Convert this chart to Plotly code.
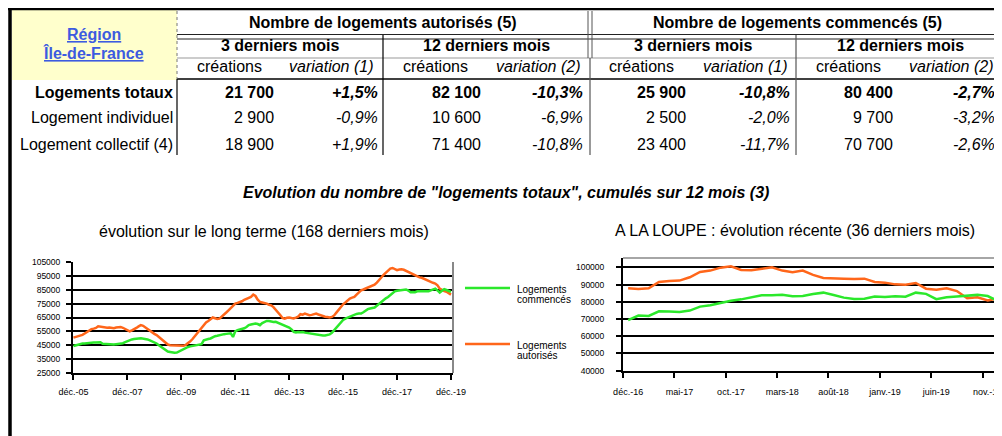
import plotly.graph_objects as go

# The page body adds an 8px margin: the figure is sized and positioned so that
# its content lands on the 1002x436 window coordinates used below.
PAGE_MARGIN = 8
W, H = 1002 - PAGE_MARGIN, 436 - PAGE_MARGIN


def X(px):
    return (px - PAGE_MARGIN) / W


def Y(py):
    return 1 - (py - PAGE_MARGIN) / H


FONT = "Liberation Sans, Arial, sans-serif"
GREEN = "#2BE82B"
ORANGE = "#FF661A"
BLUE = "#3D5BE0"

# ---------------- table data ----------------
row_labels = ["Logements totaux", "Logement individuel", "Logement collectif (4)"]
aut_3m_creations = ["21 700", "2 900", "18 900"]
aut_3m_variation = ["+1,5%", "-0,9%", "+1,9%"]
aut_12m_creations = ["82 100", "10 600", "71 400"]
aut_12m_variation = ["-10,3%", "-6,9%", "-10,8%"]
com_3m_creations = ["25 900", "2 500", "23 400"]
com_3m_variation = ["-10,8%", "-2,0%", "-11,7%"]
com_12m_creations = ["80 400", "9 700", "70 700"]
com_12m_variation = ["-2,7%", "-3,2%", "-2,6%"]

# ---------------- long-term chart data (déc.-05 .. déc.-19, monthly) ----------------
autorises_long = [
    50500, 51000, 51500, 51800, 52500, 53500, 54500, 55800, 56600, 57000, 57500,
    58700, 58400, 58000, 57800, 57600, 57800, 57500, 57300, 57800, 58000,
    58200, 57600, 56800, 55400, 55000, 55800, 56500, 57500, 58600, 59500,
    59000, 57800, 56600, 55000, 54200, 53200, 52300, 51000, 49500, 48000,
    46800, 45500, 45000, 44900, 44800, 44600, 44300, 44600, 44600, 45300,
    46300, 47800, 49500, 51500, 53500, 55500, 57800, 60000, 61500, 62500,
    64000, 65000, 64500, 64000, 64200, 65500, 67000, 68600, 70200, 71800,
    73500, 75000, 75500, 76000, 76700, 77800, 78400, 79400, 79800, 81500,
    80500, 77800, 76200, 75800, 75500, 75000, 74200, 73800, 72500, 70800,
    69000, 66800, 64700, 64200, 64800, 65000, 64600, 64300, 64900, 65600,
    67400, 67000, 67800, 67200, 66600, 66900, 67400, 67800, 67200, 66600,
    65900, 65600, 65300, 65000, 65400, 66500, 68500, 70600, 72600, 74500,
    75800, 77400, 78600, 79300, 79800, 81500, 83200, 84600, 85200, 85800,
    86600, 87100, 87700, 88600, 90200, 91800, 93800, 95800, 97400, 98900,
    100200, 100700, 99800, 99100, 99600, 99800, 99400, 98600, 98000, 97200,
    96000, 95000, 94200, 93900, 93600, 92800, 91900, 91100, 90600, 90000,
    89500, 88200, 85800, 84800, 84000, 83600, 82500, 81500,
]
commences_long = [
    44500, 45000, 45500, 46300, 46300, 46200, 46500, 46800, 46700, 46900, 47000,
    47000, 47100, 46000, 45800, 45600, 45500, 45400, 45500, 45800, 46000,
    46000, 46500, 47200, 48000, 48700, 49200, 49500, 49900, 49900, 50000,
    49900, 49600, 49200, 48500, 47800, 47000, 46300, 45000, 43800, 42700,
    41500, 40500, 40200, 39800, 39600, 39700, 40500, 41500, 42500, 43100,
    43800, 44200, 44500, 44800, 45000, 45200, 45800, 48500, 49200, 49500,
    49900, 50800, 51500, 51800, 52300, 52600, 53000, 53200, 53500, 53600,
    51000, 55000, 55900, 56200, 56600, 57200, 58200, 59500, 60000, 60200,
    60700, 60300, 59500, 61000, 62000, 62500, 62500, 62000, 61800, 61900,
    61200, 60300, 59500, 59000, 58400, 57800, 56500, 54600, 54200, 54600,
    54400, 54600, 54100, 53800, 53500, 53200, 52800, 52600, 52300, 52000,
    52000, 52100, 52400, 52800, 54000, 55900, 58000, 60200, 61900, 63200,
    64200, 65000, 65800, 66500, 67400, 67600, 67800, 67800, 68800, 70000,
    71000, 71500, 71800, 72200, 73500, 75000, 76200, 77500, 78800, 79800,
    81200, 82600, 83900, 84300, 84600, 84600, 84800, 85200, 84400, 83200,
    83400, 83200, 83900, 84000, 83700, 83900, 84200, 83900, 84600, 85200,
    85800, 84500, 83000, 84200, 85400, 84800, 84000, 83500,
]
long_tick_labels = ["déc.-05", "déc.-07", "déc.-09", "déc.-11",
                    "déc.-13", "déc.-15", "déc.-17", "déc.-19"]
long_y_ticks = [25000, 35000, 45000, 55000, 65000, 75000, 85000, 95000, 105000]

# ---------------- recent chart data (36 derniers mois) ----------------
months_recent = [
    "déc.-16", "janv.-17", "févr.-17", "mars-17", "avr.-17", "mai-17", "juin-17",
    "juil.-17", "août-17", "sept.-17", "oct.-17", "nov.-17", "déc.-17",
    "janv.-18", "févr.-18", "mars-18", "avr.-18", "mai-18", "juin-18",
    "juil.-18", "août-18", "sept.-18", "oct.-18", "nov.-18", "déc.-18",
    "janv.-19", "févr.-19", "mars-19", "avr.-19", "mai-19", "juin-19",
    "juil.-19", "août-19", "sept.-19", "oct.-19", "nov.-19", "déc.-19",
]
autorises_recent = [
    87800, 87400, 87800, 91500, 92100, 92300, 94200, 97300, 98100, 99800,
    100600, 98500, 98300, 99200, 100000, 98100, 97100, 98100, 95600, 93800,
    93400, 93400, 93200, 93400, 91500, 91100, 90100, 89900, 90900, 87600,
    87000, 87800, 86200, 82000, 82600, 80800, 82000,
]
commences_recent = [
    69400, 72000, 71800, 74500, 74300, 74100, 74900, 77200, 78000, 79500,
    80600, 81400, 82800, 83800, 83800, 84100, 83200, 83400, 84500, 85300,
    83900, 82400, 81600, 81800, 83000, 82800, 83200, 82900, 85300, 84600,
    81500, 82600, 83100, 83600, 84000, 83300, 80500,
]
recent_y_ticks = [40000, 50000, 60000, 70000, 80000, 90000, 100000]

fig = go.Figure()

x_long = list(range(len(autorises_long)))
x_recent = list(range(len(months_recent)))

fig.add_trace(go.Scatter(x=x_long, y=autorises_long, mode="lines", xaxis="x", yaxis="y",
                         line=dict(color=ORANGE, width=2.5), showlegend=False,
                         name="Logements autorisés"))
fig.add_trace(go.Scatter(x=x_long, y=commences_long, mode="lines", xaxis="x", yaxis="y",
                         line=dict(color=GREEN, width=2.5), showlegend=False,
                         name="Logements commencés"))
fig.add_trace(go.Scatter(x=x_recent, y=autorises_recent, mode="lines", xaxis="x2", yaxis="y2",
                         line=dict(color=ORANGE, width=2.5), showlegend=False,
                         name="Logements autorisés"))
fig.add_trace(go.Scatter(x=x_recent, y=commences_recent, mode="lines", xaxis="x2", yaxis="y2",
                         line=dict(color=GREEN, width=2.5), showlegend=False,
                         name="Logements commencés"))

axis_common = dict(showgrid=False, zeroline=False, showline=True, linecolor="black",
                   linewidth=2, ticks="outside", ticklen=5, tickwidth=1.5,
                   tickcolor="black", fixedrange=True, automargin=False)

long_tickvals = list(range(0, len(autorises_long), 24))
recent_label_vals = list(range(0, len(months_recent) - 1, 5))
recent_labels = [months_recent[i] for i in recent_label_vals]
recent_bound_vals = [v - 0.5 for v in recent_label_vals]

fig.update_layout(
    width=W, height=H, autosize=False,
    margin=dict(l=0, r=0, t=0, b=0, pad=0, autoexpand=False),
    paper_bgcolor="white", plot_bgcolor="rgba(0,0,0,0)",
    font=dict(family=FONT, color="black"),
    xaxis=dict(axis_common, domain=[X(73), X(453)], range=[-0.2, 168.9],
               tickvals=long_tickvals, ticktext=long_tick_labels,
               tickfont=dict(size=9), ticklabelstandoff=4, anchor="y"),
    yaxis=dict(axis_common, domain=[Y(373), Y(262)], range=[25000, 105000],
               tickvals=long_y_ticks, tickformat="d", showgrid=True,
               gridcolor="black", gridwidth=2, tickfont=dict(size=8.5),
               ticklabelstandoff=4, anchor="x"),
    xaxis2=dict(axis_common, domain=[X(623), X(999)], range=[-0.5, 36.1],
                tickvals=recent_label_vals, ticktext=recent_labels, ticks="",
                minor=dict(tickvals=recent_bound_vals, ticks="outside", ticklen=5,
                           tickwidth=1.5, tickcolor="black", showgrid=False),
                tickfont=dict(size=9), ticklabelstandoff=11,
                ticklabeloverflow="allow", anchor="y2"),
    yaxis2=dict(axis_common, domain=[Y(370.7), Y(258)], range=[40000, 105400],
                tickvals=recent_y_ticks, tickformat="d", showgrid=True,
                gridcolor="black", gridwidth=2, tickfont=dict(size=8.5),
                ticklabelstandoff=10, anchor="x2"),
)

shapes = []


def hline(x0, x1, y, color="black", width=1, dash="solid"):
    shapes.append(dict(type="line", xref="paper", yref="paper", x0=X(x0), x1=X(x1),
                       y0=Y(y), y1=Y(y), line=dict(color=color, width=width, dash=dash)))


def vline(x, y0, y1, color="black", width=1, dash="solid"):
    shapes.append(dict(type="line", xref="paper", yref="paper", x0=X(x), x1=X(x),
                       y0=Y(y0), y1=Y(y1), line=dict(color=color, width=width, dash=dash)))


# yellow region cell
shapes.append(dict(type="rect", xref="paper", yref="paper", x0=X(12), x1=X(177),
                   y0=Y(80), y1=Y(10), fillcolor="#FFFFCC", line=dict(width=0), layer="below"))
# table grid
hline(177, 999, 34.5, "#222", 1.2)
hline(177, 999, 39, "#222", 1.2)
hline(177, 999, 58, "#999", 1)
hline(177, 999, 79, "black", 1.3)
vline(177, 11, 79, "#777", 1, "dot")
vline(177, 79, 155, "black", 1.2)
vline(383, 35, 155, "black", 1.2)
vline(588, 11, 58, "#555", 1)
vline(592, 11, 58, "#555", 1)
vline(590, 58, 155, "#555", 1.2)
vline(796, 35, 155, "#555", 1.2)
# outer frame
hline(8, 1002, 8.5, "black", 3.5)
vline(10, 7, 436, "black", 3.5)
vline(999.5, 7, 436, "black", 3.5)
# plot area borders
vline(453, 262, 373, "#888", 2)
hline(623, 999, 258, "#888", 1.5)
# legend keys
hline(465, 510, 288, GREEN, 2.5)
hline(465, 510, 344, ORANGE, 2.5)

fig.update_layout(shapes=shapes)

annotations = []


def ann(text, x, y, size=16, xanchor="center", color="black"):
    annotations.append(dict(text=text, x=X(x), y=Y(y), xref="paper", yref="paper",
                            xanchor=xanchor, yanchor="middle", showarrow=False,
                            font=dict(size=size, color=color, family=FONT)))


ann("<b><u>Région</u></b>", 94, 35, color=BLUE)
ann("<b><u>Île-de-France</u></b>", 93, 53, color=BLUE)
ann("<b>Nombre de logements autorisés (5)</b>", 383, 23)
ann("<b>Nombre de logements commencés (5)</b>", 797, 23)
for cx in (280, 693):
    ann("<b>3 derniers mois</b>", cx, 46)
for cx in (486, 900):
    ann("<b>12 derniers mois</b>", cx, 46)
for cx in (229, 435, 641, 848):
    ann("créations", cx, 67)
ann("<i>variation (1)</i>", 331, 67)
ann("<i>variation (2)</i>", 538, 67)
ann("<i>variation (1)</i>", 745, 67)
ann("<i>variation (2)</i>", 951, 67)

row_y = [92, 118, 144]
columns = [
    (aut_3m_creations, 276, False),
    (aut_3m_variation, 380, True),
    (aut_12m_creations, 483, False),
    (aut_12m_variation, 585, True),
    (com_3m_creations, 688, False),
    (com_3m_variation, 792, True),
    (com_12m_creations, 895, False),
    (com_12m_variation, 997, True),
]
for i, label in enumerate(row_labels):
    bold = i == 0
    ann(f"<b>{label}</b>" if bold else label, 175, row_y[i], xanchor="right")
    for values, xr, italic in columns:
        t = values[i]
        if italic:
            t = f"<i>{t}</i>"
        if bold:
            t = f"<b>{t}</b>"
        ann(t, xr, row_y[i], xanchor="right")

ann("<b><i>Evolution du nombre de \"logements totaux\", cumulés sur 12 mois (3)</i></b>", 506, 193)
ann("évolution sur le long terme (168 derniers mois)", 97, 232, xanchor="left")
ann("A LA LOUPE : évolution récente (36 derniers mois)", 613, 230, xanchor="left")

ann("Logements", 515, 289, size=10, xanchor="left")
ann("commencés", 515, 299.5, size=10, xanchor="left")
ann("Logements", 515, 345, size=10, xanchor="left")
ann("autorisés", 515, 355.5, size=10, xanchor="left")

fig.update_layout(annotations=annotations)

fig.write_html("out.html")
